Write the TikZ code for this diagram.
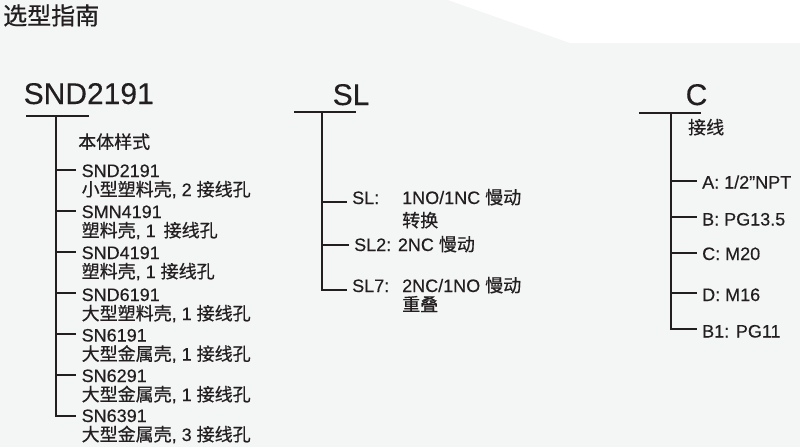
\documentclass[tikz,border=0pt]{standalone}
\usepackage{fontspec}
\setmainfont{Liberation Sans}[FakeBold=0.3]
\newfontfamily\cjkfont{Noto Sans CJK SC}[FakeBold=0.6]
\newcommand{\zhtext}[1]{{\cjkfont #1}}
\definecolor{ink}{HTML}{231F20}
\definecolor{bg}{HTML}{F4F6F5}
\tikzset{
  lbl/.style={inner sep=0pt, anchor=base west, text=ink, font=\fontsize{18}{20}\selectfont},
  biglbl/.style={inner sep=0pt, anchor=base west, text=ink, font=\fontsize{30}{32}\selectfont},
  titlelbl/.style={inner sep=0pt, anchor=base west, text=ink, font=\fontsize{24}{26}\selectfont},
  bar/.style={draw=ink, line width=2.5pt},
  trunk/.style={draw=ink, line width=1.6pt},
  tickline/.style={draw=ink, line width=2pt, shorten >=5.5pt},
}
\begin{document}
\begin{tikzpicture}[x=1pt,y=-1pt]
\useasboundingbox (0,0) rectangle (800,447);
\fill[bg] (0,0) rectangle (800,447);
\fill[white] (448,0) -- (800,0) -- (800,43) -- (570,43) -- cycle;

\node[titlelbl] (title) at (3,24.5) {\zhtext{选型指南}};

% ---------- SND column ----------
\node[biglbl] (snd) at (23.5,104) {SND2191};
\coordinate (sndbarL) at (26,116);
\coordinate (sndbarR) at (89,116);
\draw[bar] (sndbarL) -- (sndbarR);
\coordinate (sndtop) at (56,115);
\coordinate (sndbot) at (56,417);
\draw[trunk] (sndtop) -- (sndbot);
\node[lbl] (body) at (78,148.5) {\zhtext{本体样式}};

\coordinate (s1) at (56,170);
\node[lbl] (s1a) at (81.5,177) {SND2191};
\node[lbl] (s1b) at (81.5,196) {\zhtext{小型塑料壳}, 2 \zhtext{接线孔}};
\draw[tickline] (s1) -- (s1 -| s1a.west);

\coordinate (s2) at (56,211);
\node[lbl] (s2a) at (81.5,218) {SMN4191};
\node[lbl] (s2b) at (81.5,237) {\zhtext{塑料壳}, 1\hspace{8pt}\zhtext{接线孔}};
\draw[tickline] (s2) -- (s2 -| s2a.west);

\coordinate (s3) at (56,252);
\node[lbl] (s3a) at (81.5,259) {SND4191};
\node[lbl] (s3b) at (81.5,278) {\zhtext{塑料壳}, 1 \zhtext{接线孔}};
\draw[tickline] (s3) -- (s3 -| s3a.west);

\coordinate (s4) at (56,293);
\node[lbl] (s4a) at (81.5,301) {SND6191};
\node[lbl] (s4b) at (81.5,320) {\zhtext{大型塑料壳}, 1 \zhtext{接线孔}};
\draw[tickline] (s4) -- (s4 -| s4a.west);

\coordinate (s5) at (56,334);
\node[lbl] (s5a) at (81.5,341.5) {SN6191};
\node[lbl] (s5b) at (81.5,360.5) {\zhtext{大型金属壳}, 1 \zhtext{接线孔}};
\draw[tickline] (s5) -- (s5 -| s5a.west);

\coordinate (s6) at (56,375);
\node[lbl] (s6a) at (81.5,382) {SN6291};
\node[lbl] (s6b) at (81.5,401) {\zhtext{大型金属壳}, 1 \zhtext{接线孔}};
\draw[tickline] (s6) -- (s6 -| s6a.west);

\coordinate (s7) at (56,416);
\node[lbl] (s7a) at (81.5,422) {SN6391};
\node[lbl] (s7b) at (81.5,441) {\zhtext{大型金属壳}, 3 \zhtext{接线孔}};
\draw[tickline] (s7) -- (s7 -| s7a.west);

% ---------- SL column ----------
\node[biglbl] (sl) at (332.5,105) {SL};
\coordinate (slbarL) at (294,112);
\coordinate (slbarR) at (356,112);
\draw[bar] (slbarL) -- (slbarR);
\coordinate (sltop) at (322,111);
\coordinate (slbot) at (322,290.8);
\draw[trunk] (sltop) -- (slbot);

\coordinate (l1) at (322,202);
\node[lbl] (l1a) at (352,204) {SL:};
\node[lbl] (l1c) at (402,204) {1NO/1NC \zhtext{慢动}};
\node[lbl] (l1b) at (402,227) {\zhtext{转换}};
\draw[tickline] (l1) -- (l1 -| l1a.west);

\coordinate (l2) at (322,245);
\node[lbl] (l2a) at (354,251) {SL2: 2NC \zhtext{慢动}};
\draw[tickline] (l2) -- (l2 -| l2a.west);

\coordinate (l3) at (322,290);
\node[lbl] (l3a) at (352,292) {SL7:};
\node[lbl] (l3c) at (402,292) {2NC/1NO \zhtext{慢动}};
\node[lbl] (l3b) at (402,311) {\zhtext{重叠}};
\draw[tickline] (l3) -- (l3 -| l3a.west);

% ---------- C column ----------
\node[biglbl] (cc) at (685.5,105) {C};
\coordinate (cbarL) at (639,113);
\coordinate (cbarR) at (701,113);
\draw[bar] (cbarL) -- (cbarR);
\coordinate (ctop) at (671,112);
\coordinate (cbot) at (671,330);
\draw[trunk] (ctop) -- (cbot);
\node[lbl] (wire) at (688,134) {\zhtext{接线}};

\coordinate (c1) at (671,181);
\node[lbl] (c1a) at (702,188.5) {A: 1/2\symbol{"22}NPT};
\draw[tickline] (c1) -- (c1 -| c1a.west);

\coordinate (c2) at (671,217);
\node[lbl] (c2a) at (702,225.5) {B: PG13.5};
\draw[tickline] (c2) -- (c2 -| c2a.west);

\coordinate (c3) at (671,253);
\node[lbl] (c3a) at (702,260) {C: M20};
\draw[tickline] (c3) -- (c3 -| c3a.west);

\coordinate (c4) at (671,293);
\node[lbl] (c4a) at (702,301) {D: M16};
\draw[tickline] (c4) -- (c4 -| c4a.west);

\coordinate (c5) at (671,329);
\node[lbl] (c5a) at (702,337.5) {B1: PG11};
\draw[tickline] (c5) -- (c5 -| c5a.west);
\end{tikzpicture}
\end{document}
